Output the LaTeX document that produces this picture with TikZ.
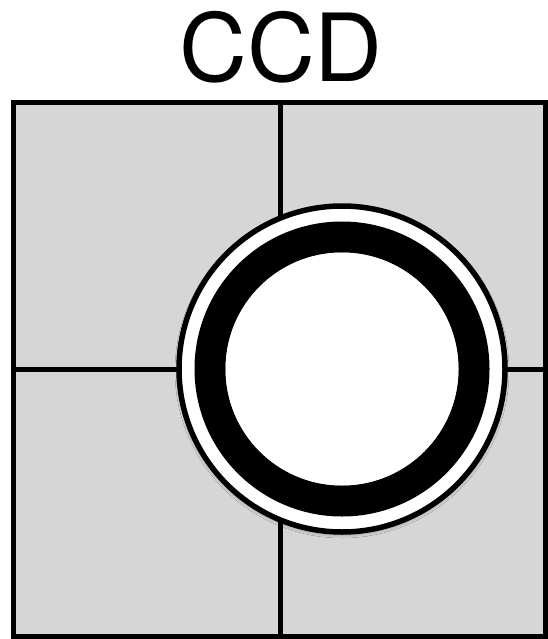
\documentclass[tikz,border=0pt]{standalone}
\usepackage{fontspec}
\setmainfont{TeX Gyre Heros}
\usepackage{xcolor}
\usepackage{tikz}
\usetikzlibrary{shadows.blur}
\definecolor{cellgray}{HTML}{D6D6D6}
\definecolor{ringblack}{HTML}{000000}

\begin{document}
\begin{tikzpicture}[x=1pt, y=-1pt]
\useasboundingbox (0,0) rectangle (547,639);
\fill[white] (0,0) rectangle (547,639);
% title
\node[font=\fontsize{94}{100}\selectfont, anchor=base, inner sep=0pt] (title) at (281,82) {CCD};
% 2x2 pixel grid
\fill[cellgray] (13.5,102.5) rectangle (545.5,636);
\draw[black, line width=4.5pt] (280.5,102.5) -- (280.5,636);
\draw[black, line width=4.5pt] (13.5,369.5) -- (545.5,369.5);
\draw[black, line width=5pt] (13.5,102.5) rectangle (545.5,636);
% spot on the detector
\coordinate (spot) at (342,369);
\fill[white, draw=black, line width=5.5pt,
  blur shadow={shadow xshift=0pt, shadow yshift=-2pt, shadow blur radius=4pt, shadow opacity=45}]
  (spot) circle[radius=163];
\draw[ringblack, line width=31pt,
  blur shadow={shadow xshift=0pt, shadow yshift=-2pt, shadow blur radius=4pt, shadow opacity=35}]
  (spot) circle[radius=132];
\fill[white] (spot) circle[radius=116.5];
\end{tikzpicture}
\end{document}
